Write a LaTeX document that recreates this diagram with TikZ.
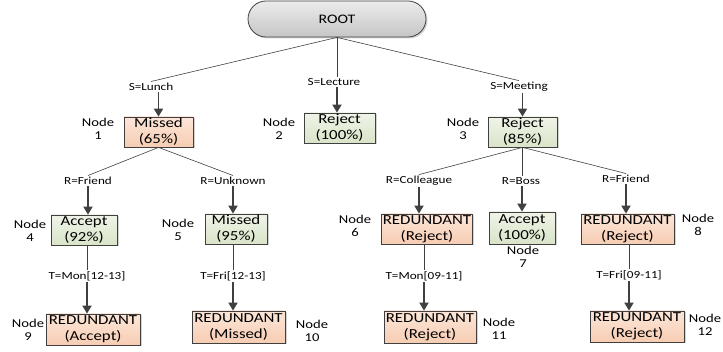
\documentclass[tikz,border=0pt]{standalone}
\usepackage{fontspec}
\setmainfont[FakeStretch=1.22]{Carlito}
\usetikzlibrary{arrows.meta,shadows}
\definecolor{peachtop}{HTML}{FCE6D8}
\definecolor{peachbot}{HTML}{F7CDB3}
\definecolor{greentop}{HTML}{EFF4E8}
\definecolor{greenbot}{HTML}{D9E4C9}
\definecolor{roottop}{HTML}{EBEBEB}
\definecolor{rootbot}{HTML}{C6C6C6}
\definecolor{edgegray}{HTML}{404040}

\begin{document}
\begin{tikzpicture}[x=1pt,y=-1pt,
  box/.style={draw=edgegray,line width=0.8pt,align=center,minimum height=30,inner sep=1pt,font=\fontsize{13.8}{16}\selectfont,drop shadow={shadow xshift=1.5pt,shadow yshift=-1.5pt,opacity=0.35}},
  missbox/.style={box,top color=peachtop,bottom color=peachbot},
  okbox/.style={box,top color=greentop,bottom color=greenbot},
  cond/.style={inner sep=1.5pt,font=\fontsize{10.8}{12}\selectfont},
  nlbl/.style={align=center,inner sep=0pt,font=\fontsize{12}{13.5}\selectfont},
  link/.style={draw=edgegray,line width=0.6pt},
  arr/.style={draw=edgegray,line width=1.8pt,-{Triangle[length=8pt,width=9pt]}}]
\useasboundingbox (0,0) rectangle (723,352);

\node[draw=edgegray,line width=0.8pt,rounded corners=18,minimum width=178,minimum height=36,top color=roottop,bottom color=rootbot,font=\fontsize{13}{14}\selectfont,drop shadow={shadow xshift=1.5pt,shadow yshift=-1.5pt,opacity=0.35}] (root) at (337,19) {ROOT};

\node[missbox,minimum width=69] (n1) at (158.5,132) {Missed\\(65\%)};
\node[okbox,minimum width=71] (n2) at (339.5,128) {Reject\\(100\%)};
\node[okbox,minimum width=69] (n3) at (522.5,132) {Reject\\(85\%)};
\node[okbox,minimum width=66] (n4) at (84,230) {Accept\\(92\%)};
\node[okbox,minimum width=62] (n5) at (236,229) {Missed\\(95\%)};
\node[missbox,minimum width=90] (n6) at (427,229) {REDUNDANT\\(Reject)};
\node[okbox,minimum width=66,minimum height=32] (n7) at (522,228) {Accept\\(100\%)};
\node[missbox,minimum width=93] (n8) at (627.5,229) {REDUNDANT\\(Reject)};
\node[missbox,minimum width=94,minimum height=31] (n9) at (93,329.5) {REDUNDANT\\(Accept)};
\node[missbox,minimum width=93,minimum height=32] (n10) at (238.5,327) {REDUNDANT\\(Missed)};
\node[missbox,minimum width=92,minimum height=32] (n11) at (430,327) {REDUNDANT\\(Reject)};
\node[missbox,minimum width=94,minimum height=31] (n12) at (637,326.5) {REDUNDANT\\(Reject)};

\node[cond] (lunch) at (151,87) {S=Lunch};
\node[cond] (lecture) at (334,82) {S=Lecture};
\node[cond] (meeting) at (519,87) {S=Meeting};
\node[cond] (rfriend) at (88,181) {R=Friend};
\node[cond] (runknown) at (233,181) {R=Unknown};
\node[cond] (rcoll) at (419,181) {R=Colleague};
\node[cond] (rboss) at (521,181) {R=Boss};
\node[cond] (rfriendb) at (626,179) {R=Friend};
\node[cond] (tmon) at (87,276) {T=Mon[12-13]};
\node[cond] (tfri) at (233,276) {T=Fri[12-13]};
\node[cond] (tmonb) at (424,276) {T=Mon[09-11]};
\node[cond] (tfrib) at (629,275) {T=Fri[09-11]};

\node[nlbl] (l1) at (98,129) {Node\\1};
\node[nlbl] (l2) at (279,129) {Node\\2};
\node[nlbl] (l3) at (463,129) {Node\\3};
\node[nlbl] (l4) at (30,231) {Node\\4};
\node[nlbl] (l5) at (178,230) {Node\\5};
\node[nlbl] (l6) at (355,226) {Node\\6};
\node[nlbl] (l7) at (523,257) {Node\\7};
\node[nlbl] (l8) at (698,225) {Node\\8};
\node[nlbl] (l9) at (28,330) {Node\\9};
\node[nlbl] (l10) at (312,331) {Node\\10};
\node[nlbl] (l11) at (499,329) {Node\\11};
\node[nlbl] (l12) at (705,325) {Node\\12};

\draw[link] (root.south) -- (lunch.north);
\draw[link] (root.south) -- (root.south |- lecture.north);
\draw[link] (root.south) -- (meeting.north);
\draw[arr] (n1.north |- lunch.south) -- (n1.north);
\draw[arr] (root.south |- lecture.south) -- (root.south |- n2.north);
\draw[arr] (n3.north |- meeting.south) -- (n3.north);

\draw[link] (n1.south) -- (rfriend.north);
\draw[link] (n1.south) -- (runknown.north);
\draw[link] (n3.south) -- (rcoll.north);
\draw[link] (n3.south) -- (n3.south |- rboss.north);
\draw[link] (n3.south) -- (rfriendb.north);
\draw[arr] (rfriend.south) -- (rfriend.south |- n4.north);
\draw[arr] (runknown.south) -- (runknown.south |- n5.north);
\draw[arr] (rcoll.south) -- (rcoll.south |- n6.north);
\draw[arr] (n7.north |- rboss.south) -- (n7.north);
\draw[arr] (rfriendb.south) -- (rfriendb.south |- n8.north);

\draw[link] (tmon.north |- n4.south) -- (tmon.north);
\draw[link] (tfri.north |- n5.south) -- (tfri.north);
\draw[link] (tmonb.north |- n6.south) -- (tmonb.north);
\draw[link] (tfrib.north |- n8.south) -- (tfrib.north);
\draw[arr] (tmon.south) -- (tmon.south |- n9.north);
\draw[arr] (tfri.south) -- (tfri.south |- n10.north);
\draw[arr] (tmonb.south) -- (tmonb.south |- n11.north);
\draw[arr] (tfrib.south) -- (tfrib.south |- n12.north);
\end{tikzpicture}
\end{document}
